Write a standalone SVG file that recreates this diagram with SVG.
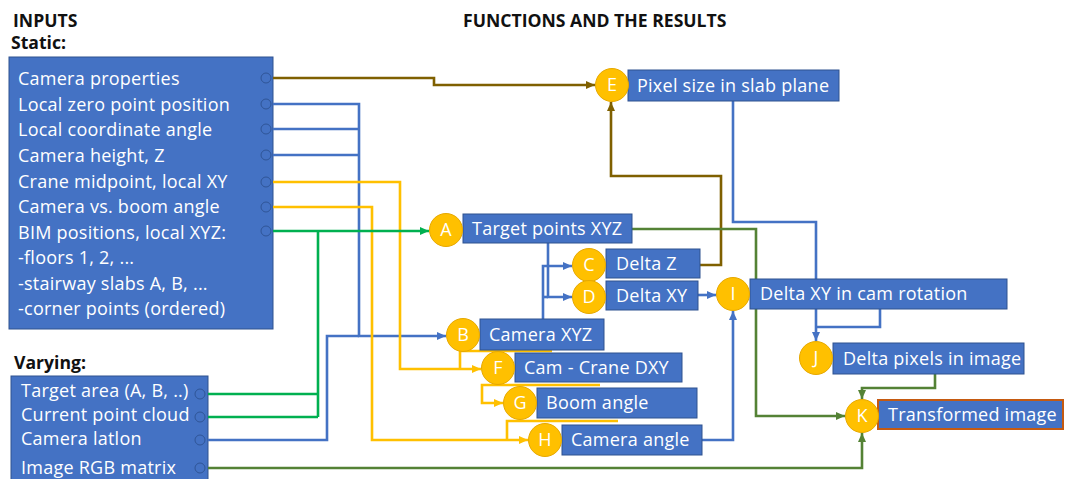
<svg xmlns="http://www.w3.org/2000/svg" width="1065" height="479" viewBox="0 0 1065 479">
<style>
text{font-family:"Open Sans","Noto Sans","DejaVu Sans",sans-serif;font-size:18px;letter-spacing:0.25px;fill:#fff}
.title{font-weight:bold;fill:#111;font-size:17.6px;letter-spacing:0}
.box{fill:#4472C4;stroke:#2F528F;stroke-width:1}
.port{fill:none;stroke:#2F5597;stroke-width:1}
.circ{fill:#FFC000;stroke:#E6A800;stroke-width:1}
.ltr{text-anchor:middle;letter-spacing:0}
.c{fill:none;stroke-width:2.6;stroke-linejoin:miter}
.bl{stroke:#4472C4}.br{stroke:#7F6000}.ye{stroke:#FFC000}.gr{stroke:#00B050}.dg{stroke:#548235}
</style>
<defs>
<marker id="mbl" markerUnits="userSpaceOnUse" markerWidth="10" markerHeight="10" refX="9" refY="5" orient="auto"><path d="M0,1 L9,5 L0,9 z" fill="#4472C4"/></marker>
<marker id="mbr" markerUnits="userSpaceOnUse" markerWidth="10" markerHeight="10" refX="9" refY="5" orient="auto"><path d="M0,1 L9,5 L0,9 z" fill="#7F6000"/></marker>
<marker id="mye" markerUnits="userSpaceOnUse" markerWidth="10" markerHeight="10" refX="9" refY="5" orient="auto"><path d="M0,1 L9,5 L0,9 z" fill="#FFC000"/></marker>
<marker id="mgr" markerUnits="userSpaceOnUse" markerWidth="10" markerHeight="10" refX="9" refY="5" orient="auto"><path d="M0,1 L9,5 L0,9 z" fill="#00B050"/></marker>
<marker id="mdg" markerUnits="userSpaceOnUse" markerWidth="10" markerHeight="10" refX="9" refY="5" orient="auto"><path d="M0,1 L9,5 L0,9 z" fill="#548235"/></marker>
</defs>
<rect width="1065" height="479" fill="#fff"/>

<text class="title" x="13" y="27">INPUTS</text>
<text class="title" x="11" y="49">Static:</text>
<text class="title" x="14" y="369">Varying:</text>
<text class="title" x="463" y="27">FUNCTIONS AND THE RESULTS</text>

<g id="static-inputs">
<rect class="box" x="9" y="57" width="264" height="272"/>
<text x="18" y="85">Camera properties</text>
<text x="18" y="111">Local zero point position</text>
<text x="18" y="136">Local coordinate angle</text>
<text x="18" y="162">Camera height, Z</text>
<text x="18" y="188">Crane midpoint, local XY</text>
<text x="18" y="213">Camera vs. boom angle</text>
<text x="18" y="239">BIM positions, local XYZ:</text>
<text x="18" y="264">-floors 1, 2, ...</text>
<text x="18" y="290">-stairway slabs A, B, ...</text>
<text x="18" y="315">-corner points (ordered)</text>
<circle class="port" cx="266" cy="78" r="5"/>
<circle class="port" cx="266" cy="104" r="5"/>
<circle class="port" cx="266" cy="129" r="5"/>
<circle class="port" cx="266" cy="155" r="5"/>
<circle class="port" cx="266" cy="182" r="5"/>
<circle class="port" cx="266" cy="207" r="5"/>
<circle class="port" cx="266" cy="231" r="5"/>
</g>

<g id="varying-inputs">
<rect class="box" x="11" y="376" width="197" height="105"/>
<text x="21" y="397">Target area (A, B, ..)</text>
<text x="21" y="421">Current point cloud</text>
<text x="21" y="445">Camera latlon</text>
<text x="21" y="474">Image RGB matrix</text>
<circle class="port" cx="200" cy="394" r="5"/>
<circle class="port" cx="200" cy="417" r="5"/>
<circle class="port" cx="200" cy="440" r="5"/>
<circle class="port" cx="200" cy="468" r="5"/>
</g>

<g id="connectors">
<path class="c br" d="M273,78 H434 V85 H595" marker-end="url(#mbr)"/>
<path class="c br" d="M700,265 H721 V176 H611 V102" marker-end="url(#mbr)"/>

<path class="c bl" d="M273,104 H359 V336 H446" marker-end="url(#mbl)"/>
<path class="c bl" d="M273,129 H359"/>
<path class="c bl" d="M273,155 H359"/>
<path class="c bl" d="M208,440 H327 V336 H359"/>
<path class="c bl" d="M548,243 V297 H572" marker-end="url(#mbl)"/>
<path class="c bl" d="M543,319 V266 H572" marker-end="url(#mbl)"/>
<path class="c bl" d="M543,297 H548"/>
<path class="c bl" d="M698,295 H716" marker-end="url(#mbl)"/>
<path class="c bl" d="M702,440 H733 V311" marker-end="url(#mbl)"/>
<path class="c bl" d="M733,101 V222 H816 V341" marker-end="url(#mbl)"/>
<path class="c bl" d="M880,309 V327 H816"/>

<path class="c ye" d="M273,182 H400 V369 H481" marker-end="url(#mye)"/>
<path class="c ye" d="M273,207 H372 V440 H528" marker-end="url(#mye)"/>
<path class="c ye" d="M552,351 H460 V369"/>
<path class="c ye" d="M600,385 H482 V403 H503" marker-end="url(#mye)"/>
<path class="c ye" d="M618,421 H507 V440"/>

<path class="c gr" d="M273,231 H429" marker-end="url(#mgr)"/>
<path class="c gr" d="M318,231 V417"/>
<path class="c gr" d="M208,394 H318"/>
<path class="c gr" d="M208,417 H318"/>

<path class="c dg" d="M632,229 H756 V416 H845" marker-end="url(#mdg)"/>
<path class="c dg" d="M208,468 H862 V433" marker-end="url(#mdg)"/>
<path class="c dg" d="M935,374 V388 H862 V399" marker-end="url(#mdg)"/>
</g>

<g id="node-A">
<rect class="box" x="463" y="214" width="169" height="29"/>
<text x="472" y="235">Target points XYZ</text>
<circle class="circ" cx="446" cy="230" r="16.5"/>
<text class="ltr" x="446" y="236">A</text>
</g>
<g id="node-B">
<rect class="box" x="480" y="319" width="124" height="31"/>
<text x="489" y="341">Camera XYZ</text>
<circle class="circ" cx="463" cy="335" r="16.5"/>
<text class="ltr" x="463" y="341">B</text>
</g>
<g id="node-C">
<rect class="box" x="606" y="249" width="94" height="29"/>
<text x="616" y="270">Delta Z</text>
<circle class="circ" cx="589" cy="265" r="16.5"/>
<text class="ltr" x="589" y="271">C</text>
</g>
<g id="node-D">
<rect class="box" x="606" y="281" width="92" height="29"/>
<text x="616" y="302">Delta XY</text>
<circle class="circ" cx="589" cy="297" r="16.5"/>
<text class="ltr" x="589" y="303">D</text>
</g>
<g id="node-E">
<rect class="box" x="628" y="70" width="211" height="31"/>
<text x="637" y="92">Pixel size in slab plane</text>
<circle class="circ" cx="612" cy="85" r="16.5"/>
<text class="ltr" x="612" y="91">E</text>
</g>
<g id="node-F">
<rect class="box" x="515" y="353" width="167" height="29"/>
<text x="524" y="374">Cam - Crane DXY</text>
<circle class="circ" cx="498" cy="368" r="16.5"/>
<text class="ltr" x="498" y="374">F</text>
</g>
<g id="node-G">
<rect class="box" x="537" y="388" width="160" height="30"/>
<text x="546" y="409">Boom angle</text>
<circle class="circ" cx="520" cy="403" r="16.5"/>
<text class="ltr" x="520" y="409">G</text>
</g>
<g id="node-H">
<rect class="box" x="562" y="425" width="140" height="30"/>
<text x="571" y="446">Camera angle</text>
<circle class="circ" cx="545" cy="440" r="16.5"/>
<text class="ltr" x="545" y="446">H</text>
</g>
<g id="node-I">
<rect class="box" x="750" y="279" width="257" height="30"/>
<text x="760" y="300">Delta XY in cam rotation</text>
<circle class="circ" cx="733" cy="294" r="16.5"/>
<text class="ltr" x="733" y="300">I</text>
</g>
<g id="node-J">
<rect class="box" x="833" y="343" width="191" height="31"/>
<text x="843" y="365">Delta pixels in image</text>
<circle class="circ" cx="816" cy="358" r="16.5"/>
<text class="ltr" x="816" y="364">J</text>
</g>
<g id="node-K">
<rect x="878" y="400" width="185" height="29" fill="#4472C4" stroke="#C55A11" stroke-width="2"/>
<text x="888" y="421">Transformed image</text>
<circle class="circ" cx="862" cy="416" r="16.5"/>
<text class="ltr" x="862" y="422">K</text>
</g>
</svg>
